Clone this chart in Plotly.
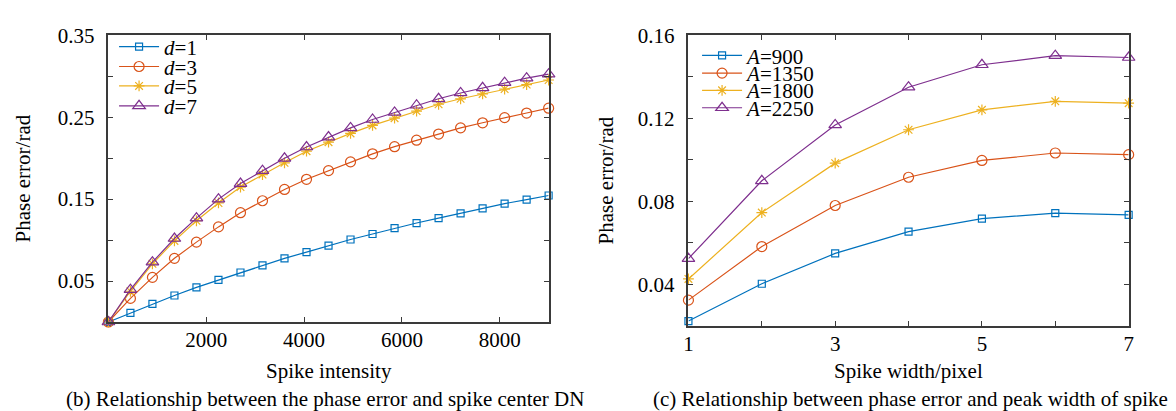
import plotly.graph_objects as go

W, H = 1176, 411
FONT = "Liberation Serif"

# ---- data (b) ----
intensity = [0, 450, 900, 1350, 1800, 2250, 2700, 3150, 3600, 4050, 4500,
             4950, 5400, 5850, 6300, 6750, 7200, 7650, 8100, 8550, 9000]
d1 = [0.0, 0.011, 0.022, 0.0323, 0.0422, 0.0513, 0.0604, 0.069, 0.0777, 0.0853, 0.0932,
      0.1007, 0.1074, 0.1145, 0.1208, 0.1268, 0.1327, 0.1386, 0.1445, 0.1493, 0.1544]
d3 = [0.0, 0.0288, 0.0545, 0.0777, 0.0975, 0.1161, 0.1334, 0.148, 0.1618, 0.1742, 0.1848,
      0.1955, 0.2053, 0.214, 0.2219, 0.2294, 0.237, 0.2432, 0.2495, 0.2551, 0.261]
d5 = [0.0, 0.0375, 0.071, 0.099, 0.1236, 0.1453, 0.1647, 0.180, 0.1943, 0.2085, 0.2195,
      0.2302, 0.240, 0.2488, 0.2575, 0.2658, 0.2725, 0.2784, 0.2844, 0.2898, 0.2954]
d7 = [0.0, 0.0395, 0.073, 0.1019, 0.1268, 0.150, 0.169, 0.1848, 0.1998, 0.2136, 0.2258,
      0.237, 0.2472, 0.2559, 0.2646, 0.2725, 0.2796, 0.2859, 0.2922, 0.2977, 0.3025]
left_names = ["<i>d</i>=1", "<i>d</i>=3", "<i>d</i>=5", "<i>d</i>=7"]

# ---- data (c) ----
width_px = [1, 2, 3, 4, 5, 6, 7]
a900 = [0.0223, 0.0403, 0.0549, 0.0654, 0.0717, 0.0743, 0.0735]
a1350 = [0.0324, 0.0582, 0.078, 0.0916, 0.0997, 0.1033, 0.1025]
a1800 = [0.0426, 0.0746, 0.0984, 0.1145, 0.1241, 0.1282, 0.1273]
a2250 = [0.0524, 0.0899, 0.1168, 0.1350, 0.1458, 0.1502, 0.1493]
right_names = ["<i>A</i>=900", "<i>A</i>=1350", "<i>A</i>=1800", "<i>A</i>=2250"]

left_xticks = [2000, 4000, 6000, 8000]
left_yticks = [0.05, 0.10, 0.15, 0.20, 0.25, 0.30, 0.35]
left_ylabels = ["0.05", "", "0.15", "", "0.25", "", "0.35"]
right_xticks = [1, 2, 3, 4, 5, 6, 7]
right_xlabels = ["1", "", "3", "", "5", "", "7"]
right_yticks = [0.02, 0.04, 0.06, 0.08, 0.10, 0.12, 0.14, 0.16]
right_ylabels = ["", "0.04", "", "0.08", "", "0.12", "", "0.16"]

colors = ["#0072BD", "#D95319", "#EDB120", "#7E2F8E"]
symbols = ["square-open", "circle-open", "asterisk-open", "triangle-up-open"]
sizes = [7, 10, 9, 11]

fig = go.Figure()

left_rows = [36, 56.5, 76.5, 97]
right_rows = [45, 63.3, 81, 99]

for i, (ys, nm) in enumerate(zip([d1, d3, d5, d7], left_names)):
    lg = "legend" if i == 0 else f"legend{i+1}"
    fig.add_trace(go.Scatter(
        x=intensity, y=ys, name=nm, mode="lines+markers", xaxis="x", yaxis="y",
        line=dict(color=colors[i], width=1.2),
        marker=dict(symbol=symbols[i], size=sizes[i], color=colors[i],
                    line=dict(color=colors[i], width=1.2)),
        cliponaxis=False, legend=lg))

for i, (ys, nm) in enumerate(zip([a900, a1350, a1800, a2250], right_names)):
    lg = f"legend{i+5}"
    fig.add_trace(go.Scatter(
        x=width_px, y=ys, name=nm, mode="lines+markers", xaxis="x2", yaxis="y2",
        line=dict(color=colors[i], width=1.2),
        marker=dict(symbol=symbols[i], size=sizes[i], color=colors[i],
                    line=dict(color=colors[i], width=1.2)),
        cliponaxis=False, legend=lg))

axcol = "#3a3a3a"
FS = 21
common = dict(showline=True, linecolor=axcol, linewidth=1.5, mirror="ticks",
              ticks="inside", ticklen=5, tickcolor=axcol, tickwidth=1,
              showgrid=False, zeroline=False,
              tickfont=dict(family=FONT, size=FS, color="black"))

lx0, lx1 = 104.3, 548.3
rx0, rx1 = 689.3, 1133.3
top = 24
lbot, rbot = 319.3, 323.3

fig.update_layout(
    width=W, height=H, margin=dict(l=0, r=0, t=0, b=0),
    paper_bgcolor="white", plot_bgcolor="white",
    font=dict(family=FONT, size=FS, color="black"),
    xaxis=dict(domain=[lx0 / W, lx1 / W], range=[0, 9000], tickvals=left_xticks,
               anchor="y", ticklabelstandoff=-2, **common),
    yaxis=dict(domain=[1 - lbot / H, 1 - top / H], range=[0, 0.35],
               tickvals=left_yticks, ticktext=left_ylabels, anchor="x",
               ticklabelstandoff=8, **common),
    xaxis2=dict(domain=[rx0 / W, rx1 / W], range=[1, 7], tickvals=right_xticks,
                ticktext=right_xlabels, anchor="y2", ticklabelstandoff=-2, **common),
    yaxis2=dict(domain=[1 - rbot / H, 1 - top / H], range=[0.02, 0.16],
                tickvals=right_yticks, ticktext=right_ylabels, anchor="x2",
                ticklabelstandoff=8, **common),
    showlegend=True,
)

legend_font = dict(family=FONT, size=FS, color="black")
for i in range(4):
    key = "legend" if i == 0 else f"legend{i+1}"
    fig.update_layout({key: dict(x=110 / W, y=1 - left_rows[i] / H, xanchor="left",
                                 yanchor="middle", bgcolor="rgba(0,0,0,0)",
                                 font=legend_font, itemwidth=40)})
for i in range(4):
    key = f"legend{i+5}"
    fig.update_layout({key: dict(x=698 / W, y=1 - right_rows[i] / H, xanchor="left",
                                 yanchor="middle", bgcolor="rgba(0,0,0,0)",
                                 font=legend_font, itemwidth=40)})

ann = [
    dict(text="Spike intensity", x=(lx0 + lx1) / 2 / W, y=1 - 370 / H),
    dict(text="Spike width/pixel", x=(rx0 + rx1) / 2 / W, y=1 - 370 / H),
    dict(text="(b) Relationship between the phase error and spike center DN",
         x=323 / W, y=1 - 399 / H),
    dict(text="(c) Relationship between phase error and peak width of spike",
         x=913 / W, y=1 - 399 / H),
    dict(text="Phase error/rad", x=18 / W, y=1 - (top + lbot) / 2 / H, textangle=-90),
    dict(text="Phase error/rad", x=606 / W, y=1 - (top + rbot) / 2 / H, textangle=-90),
]
for a in ann:
    fig.add_annotation(xref="paper", yref="paper", showarrow=False,
                       xanchor="center", yanchor="middle",
                       font=dict(family=FONT, size=FS, color="black"), **a)

fig.write_html("out.html")
